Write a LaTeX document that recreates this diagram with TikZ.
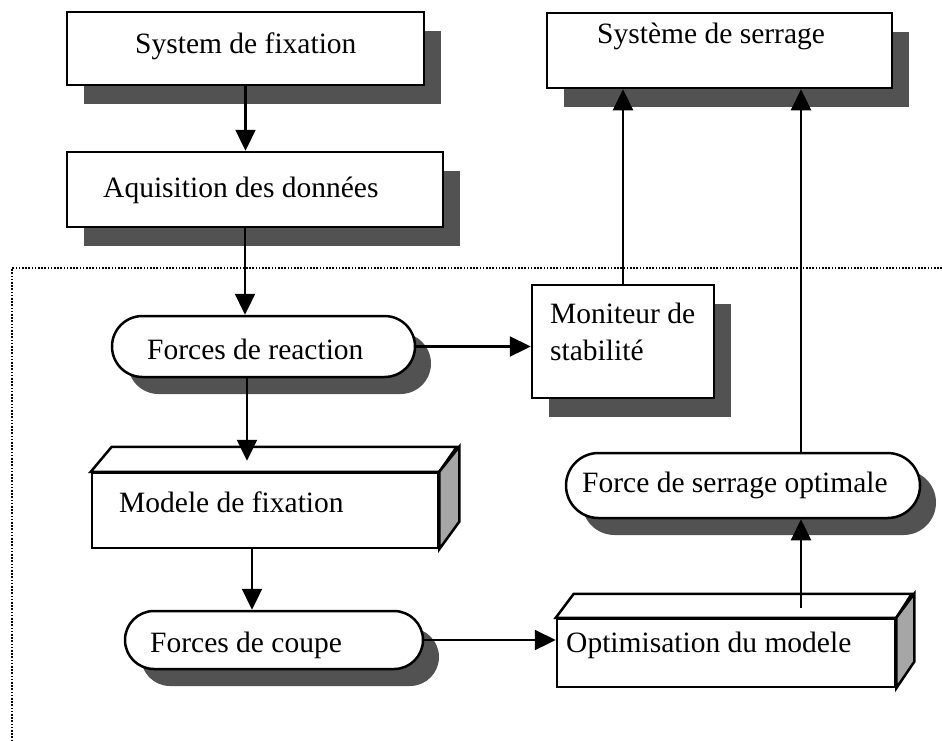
\documentclass[tikz,border=0pt]{standalone}
\usepackage{fontspec}
\setmainfont{Liberation Serif}
\usetikzlibrary{shapes.misc, shadows, arrows.meta}

\begin{document}
\begin{tikzpicture}[x=1pt, y=-1pt,
  lbl/.style={anchor=base west, inner sep=0pt, font=\fontsize{29.5}{36}\selectfont},
  plainbox/.style={draw, line width=2.5pt, fill=white, rectangle, inner sep=0pt},
  shadowbox/.style={plainbox, general shadow={shadow xshift=17pt, shadow yshift=-19pt, fill=black!68}},
  pill/.style={draw, line width=2.5pt, fill=white, rounded rectangle, inner sep=0pt,
    general shadow={shadow xshift=16pt, shadow yshift=-17pt, fill=black!68}},
  face/.style={draw, line width=2.5pt, fill=white},
  sideface/.style={face, fill=black!35},
  arr/.style={line width=2.3pt, -{Triangle[length=21pt, width=20pt]}},
  dotline/.style={line width=1.6pt, dash pattern=on 1.6pt off 1.6pt},
]
\useasboundingbox (0,0) rectangle (942,740);

% dotted frame around the processing part
\draw[dotline] (942,268) -- (12,268) -- (12,740);

% boxes
\node[shadowbox, minimum width=357pt, minimum height=73pt] (b1) at (245.5,48.5) {};
\node[shadowbox, minimum width=376pt, minimum height=75pt] (b2) at (255,189.5) {};
\node[shadowbox, minimum width=345pt, minimum height=75pt] (sys) at (719.5,50.5) {};
\node[shadowbox, minimum width=182pt, minimum height=113pt] (mon) at (623,341.5) {};
\node[pill, minimum width=303pt, minimum height=61pt] (fr) at (263.5,346.5) {};
\node[pill, minimum width=298pt, minimum height=58pt] (fc) at (274,640) {};
\node[pill, minimum width=354pt, minimum height=65pt] (fso) at (743,485.5) {};

% block-shaped boxes
\node[plainbox, minimum width=346pt, minimum height=75pt] (m) at (265,510.5) {};
\draw[face] (m.north west) -- ++(21,-25) -- ++(345,0) -- (m.north east) -- cycle;
\draw[sideface] (m.north east) -- ++(20,-25) -- ++(0,75) -- (m.south east) -- cycle;
\coordinate (mtop) at ([yshift=11pt]m.north);

\node[plainbox, minimum width=338pt, minimum height=68pt] (opt) at (726,653) {};
\draw[face] (opt.north west) -- ++(18,-24) -- ++(338,0) -- (opt.north east) -- cycle;
\draw[sideface] (opt.north east) -- ++(18,-24) -- ++(0,68) -- (opt.south east) -- cycle;
\coordinate (otop) at (801,608);

% connectors
\draw[arr] (b1.south) -- (b1.south |- b2.north);
\draw[arr] ([xshift=-10pt]b2.south) -- ([xshift=-10pt]b2.south |- fr.north);
\draw[arr] ([xshift=-16.5pt]fr.south) -- ([xshift=-16.5pt]fr.south |- mtop);
\draw[arr] ([xshift=-13pt]m.south) -- ([xshift=-13pt]m.south |- fc.north);
\draw[arr] (fr.east) -- (fr.east -| mon.west);
\draw[arr] (fc.east) -- (fc.east -| opt.west);
\draw[arr] (mon.north) -- (mon.north |- sys.south);
\draw[arr] (otop) -- (otop |- fso.south);
\draw[arr] (fso.north -| otop) -- (otop |- sys.south);

% labels
\node[lbl] (t1) at (135,53) {System de fixation};
\node[lbl] (t2) at (103,197) {Aquisition des données};
\node[lbl] (t3) at (597,43) {Système de serrage};
\node[lbl] (t4) at (147,359) {Forces de reaction};
\node[lbl] (t5) at (550,323) {Moniteur de};
\node[lbl] (t5b) at (550,360) {stabilité};
\node[lbl] (t6) at (119,512) {Modele de fixation};
\node[lbl] (t7) at (582,492) {Force de serrage optimale};
\node[lbl] (t8) at (150,652) {Forces de coupe};
\node[lbl] (t9) at (566,652) {Optimisation du modele};
\end{tikzpicture}
\end{document}
